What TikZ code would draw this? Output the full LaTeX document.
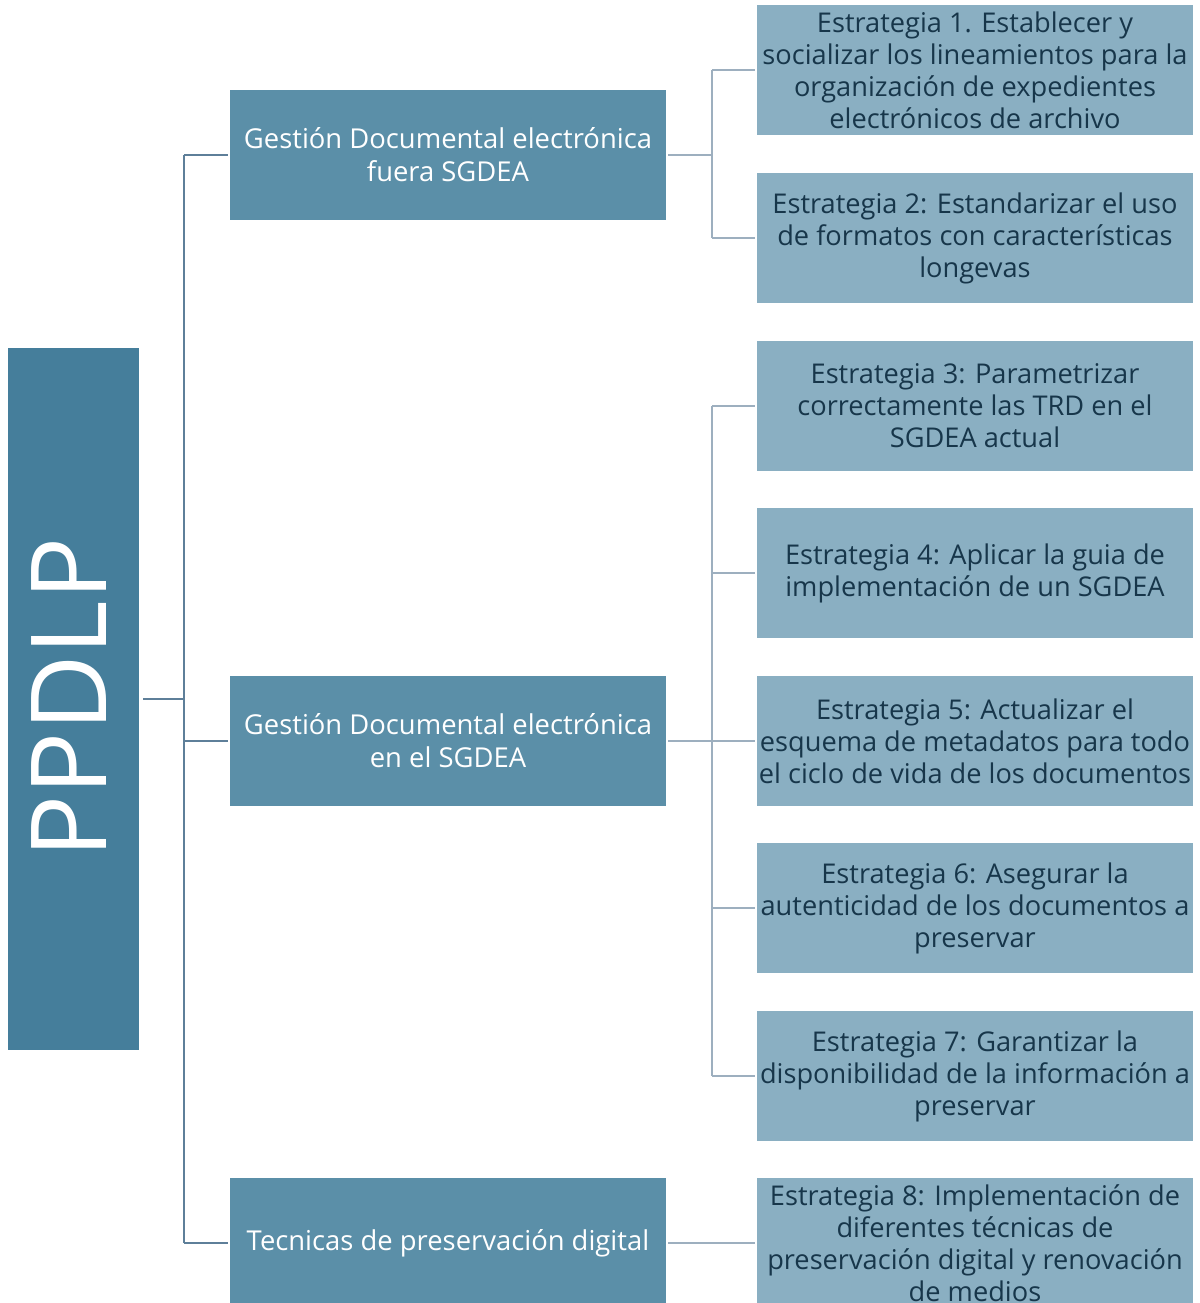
\documentclass[tikz,border=0pt]{standalone}
\usepackage{fontspec}
\setmainfont{Open Sans}
\definecolor{rootc}{HTML}{457E9B}
\definecolor{midc}{HTML}{5B8FA8}
\definecolor{leafc}{HTML}{8AAFC2}
\definecolor{leaftxt}{HTML}{17364A}
\definecolor{lline}{HTML}{5E7F99}
\definecolor{rline}{HTML}{9DAFBF}
\begin{document}
\begin{tikzpicture}[x=0.5pt,y=-0.5pt,
  rootbox/.style={fill=rootc,draw=none,minimum width=65.5pt,minimum height=351pt,inner sep=0pt,text=white},
  midbox/.style={fill=midc,draw=none,minimum width=218pt,minimum height=65pt,inner sep=0pt,text=white,align=center,font=\fontsize{13.7}{16.5}\selectfont},
  leafbox/.style={fill=leafc,draw=none,minimum width=218pt,minimum height=65pt,inner sep=0pt,text=leaftxt,align=center,font=\fontsize{13.6}{16}\selectfont},
  lconn/.style={draw=lline,line width=1.4pt},
  rconn/.style={draw=rline,line width=1.4pt}]
\useasboundingbox (0,0) rectangle (1200,1303);
\node[rootbox] (root) at (73.5,699) {};
\node[text=white,rotate=90,font=\fontsize{52.5}{52.5}\selectfont] (rootlbl) at (69,698) {PPDLP};
\node[midbox] (m1) at (448,155) {Gestión Documental electrónica\\fuera SGDEA};
\node[midbox] (m2) at (448,741) {Gestión Documental electrónica\\en el SGDEA};
\node[midbox] (m3) at (448,1243) {Tecnicas de preservación digital};
\node[leafbox] (l1) at (975,70) {Estrategia 1. Establecer y\\socializar los lineamientos para la\\organización de expedientes\\electrónicos de archivo};
\node[leafbox] (l2) at (975,238) {Estrategia 2: Estandarizar el uso\\de formatos con características\\longevas};
\node[leafbox] (l3) at (975,406) {Estrategia 3: Parametrizar\\correctamente las TRD en el\\SGDEA actual};
\node[leafbox] (l4) at (975,573) {Estrategia 4: Aplicar la guia de\\implementación de un SGDEA};
\node[leafbox] (l5) at (975,741) {Estrategia 5: Actualizar el\\esquema de metadatos para todo\\el ciclo de vida de los documentos};
\node[leafbox] (l6) at (975,908) {Estrategia 6: Asegurar la\\autenticidad de los documentos a\\preservar};
\node[leafbox] (l7) at (975,1076) {Estrategia 7: Garantizar la\\disponibilidad de la información a\\preservar};
\node[leafbox] (l8) at (975,1243) {Estrategia 8: Implementación de\\diferentes técnicas de\\preservación digital y renovación\\de medios};
\coordinate (sp) at (184,0);
\coordinate (sr) at (712,0);
% left tree
\draw[lconn] ([xshift=2pt]root.east) -- (root.east -| sp);
\draw[lconn] (m1.west -| sp) -- (m3.west -| sp);
\foreach \m in {m1,m2,m3} \draw[lconn] (\m.west -| sp) -- ([xshift=-1pt]\m.west);
% right tree
\draw[rconn] ([xshift=1pt]m1.east) -- (m1.east -| sr);
\draw[rconn] (l1.west -| sr) -- (l2.west -| sr);
\draw[rconn] ([xshift=1pt]m2.east) -- (m2.east -| sr);
\draw[rconn] (l3.west -| sr) -- (l7.west -| sr);
\foreach \l in {l1,l2,l3,l4,l5,l6,l7} \draw[rconn] (\l.west -| sr) -- ([xshift=-1pt]\l.west);
\draw[rconn] ([xshift=1pt]m3.east) -- ([xshift=-1pt]l8.west);
\end{tikzpicture}
\end{document}
